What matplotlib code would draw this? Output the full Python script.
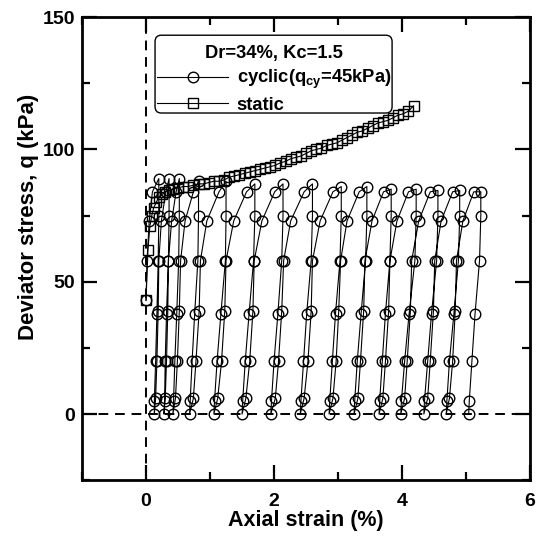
import matplotlib
matplotlib.use("Agg")
import matplotlib.pyplot as plt
from matplotlib.patches import FancyBboxPatch
from matplotlib.ticker import MultipleLocator

plt.rcParams["font.family"] = "Liberation Sans"
plt.rcParams["font.weight"] = "bold"
plt.rcParams["mathtext.fontset"] = "custom"
plt.rcParams["mathtext.rm"] = "Liberation Sans:bold"
plt.rcParams["mathtext.it"] = "Liberation Sans:bold"
plt.rcParams["mathtext.bf"] = "Liberation Sans:bold"

# static (monotonic) test
static_strain = [0.00, 0.03, 0.06, 0.09, 0.12, 0.16, 0.20, 0.25, 0.30, 0.36,
                 0.42, 0.50, 0.58, 0.66, 0.74, 0.82, 0.90, 0.98, 1.06, 1.14,
                 1.22, 1.30, 1.38, 1.46, 1.54, 1.62, 1.70, 1.78, 1.86, 1.94,
                 2.02, 2.10, 2.18, 2.26, 2.34, 2.42, 2.50, 2.58, 2.66, 2.74,
                 2.82, 2.90, 2.98, 3.06, 3.14, 3.22, 3.30, 3.38, 3.46, 3.54,
                 3.62, 3.70, 3.78, 3.86, 3.94, 4.02, 4.10, 4.18]
static_q = [43.0, 62.0, 71.0, 75.0, 78.0, 80.0, 82.0, 83.0, 84.0, 84.5,
            85.0, 85.5, 86.0, 86.0, 86.5, 87.0, 87.0, 87.5, 88.0, 88.0,
            88.5, 89.5, 90.0, 90.5, 91.0, 91.5, 92.0, 92.5, 93.0, 93.5,
            94.0, 95.0, 95.5, 96.5, 97.0, 97.5, 98.5, 99.5, 100.0, 100.5,
            101.5, 102.0, 102.5, 103.5, 104.5, 105.5, 106.5, 107.0, 108.0, 109.0,
            110.0, 110.5, 111.0, 112.0, 113.0, 113.5, 114.5, 116.5]

# cyclic test: first loading from the consolidation state
first_load_strain = [0.00, 0.016, 0.05, 0.10, 0.20]
first_load_q = [43.0, 58.0, 73.0, 84.0, 89.0]

peak_q = [89, 89, 89, 88, 88, 87, 87, 87, 86, 86, 85, 85, 84.5, 84.5, 84]

# unloading branches: strain at q = 75, 58, 38, 20, 5, 0
unload_q = [75, 58, 38, 20, 5, 0]
unload_strain = [
    [0.20, 0.19, 0.17, 0.15, 0.13, 0.13],
    [0.36, 0.35, 0.32, 0.30, 0.29, 0.28],
    [0.52, 0.51, 0.48, 0.45, 0.43, 0.42],
    [0.82, 0.81, 0.76, 0.72, 0.69, 0.68],
    [1.25, 1.24, 1.17, 1.11, 1.07, 1.06],
    [1.70, 1.68, 1.61, 1.55, 1.51, 1.50],
    [2.14, 2.12, 2.06, 2.00, 1.96, 1.95],
    [2.60, 2.58, 2.51, 2.46, 2.42, 2.41],
    [3.05, 3.03, 2.96, 2.91, 2.87, 2.86],
    [3.45, 3.43, 3.36, 3.30, 3.26, 3.25],
    [3.83, 3.81, 3.74, 3.69, 3.65, 3.64],
    [4.22, 4.20, 4.11, 4.04, 3.99, 3.98],
    [4.56, 4.54, 4.46, 4.40, 4.35, 4.34],
    [4.90, 4.88, 4.81, 4.74, 4.70, 4.69],
    [5.23, 5.21, 5.14, 5.09, 5.05, 5.04],
]

# reloading branches: strain at q = 6, 20, 39, 58, 73, 84 and the next peak
load_q = [6, 20, 39, 58, 73, 84]
load_strain = [
    [0.15, 0.17, 0.19, 0.20, 0.24, 0.31, 0.36],
    [0.30, 0.32, 0.34, 0.35, 0.40, 0.47, 0.52],
    [0.46, 0.49, 0.52, 0.54, 0.61, 0.74, 0.82],
    [0.74, 0.78, 0.83, 0.85, 0.95, 1.14, 1.25],
    [1.12, 1.18, 1.23, 1.25, 1.37, 1.57, 1.70],
    [1.56, 1.62, 1.67, 1.69, 1.81, 2.01, 2.14],
    [2.02, 2.07, 2.12, 2.15, 2.26, 2.47, 2.60],
    [2.47, 2.53, 2.58, 2.60, 2.72, 2.92, 3.05],
    [2.92, 2.97, 3.01, 3.04, 3.14, 3.33, 3.45],
    [3.31, 3.35, 3.40, 3.42, 3.53, 3.71, 3.83],
    [3.70, 3.74, 3.79, 3.81, 3.92, 4.10, 4.22],
    [4.04, 4.08, 4.13, 4.15, 4.26, 4.44, 4.56],
    [4.40, 4.44, 4.49, 4.51, 4.61, 4.79, 4.90],
    [4.74, 4.79, 4.83, 4.85, 4.95, 5.12, 5.23],
]

# chain the branches into one continuous record
cyc_strain = list(first_load_strain)
cyc_q = list(first_load_q)
for i, unload in enumerate(unload_strain):
    cyc_strain += unload
    cyc_q += unload_q
    if i < len(load_strain):
        cyc_strain += load_strain[i]
        cyc_q += load_q + [peak_q[i + 1]]

fig = plt.figure(figsize=(5.36, 5.36), dpi=100)
ax = fig.add_axes([0.153, 0.104, 0.836, 0.864])

ax.axvline(0, color="black", lw=1.4, ls=(0, (5, 3.5)), zorder=1)
ax.axhline(0, color="black", lw=1.4, ls=(0, (5, 3.5)), zorder=1)

ax.plot(cyc_strain, cyc_q, color="black", lw=0.8, marker="o", ms=7.6,
        mfc="none", mec="black", mew=1.0, zorder=3,
        label=r"cyclic(q$_{\mathrm{cy}}$=45kPa)")
ax.plot(static_strain, static_q, color="black", lw=0.8, marker="s", ms=7.0,
        mfc="none", mec="black", mew=1.0, zorder=2, label="static")

ax.set_xlim(-1, 6)
ax.set_ylim(-25, 150)
ax.xaxis.set_major_locator(MultipleLocator(2))
ax.xaxis.set_minor_locator(MultipleLocator(1))
ax.yaxis.set_major_locator(MultipleLocator(50))
ax.yaxis.set_minor_locator(MultipleLocator(25))
ax.tick_params(which="both", direction="in", top=True, right=True,
               width=1.6, labelsize=14)
ax.tick_params(which="major", length=11)
ax.tick_params(which="minor", length=6)
ax.tick_params(axis="x", pad=9)
ax.tick_params(axis="y", pad=5)
for spine in ax.spines.values():
    spine.set_linewidth(2.0)

ax.set_xlabel("Axial strain (%)", fontsize=15.5, fontweight="bold", labelpad=0)
ax.set_ylabel("Deviator stress, q (kPa)", fontsize=16, fontweight="bold")
ax.yaxis.set_label_coords(-0.096, 0.568)

# rounded legend frame drawn separately so the padding can be tight sideways
frame = FancyBboxPatch((0.163, 0.793), 0.529, 0.168, transform=ax.transAxes,
                       boxstyle="round,pad=0,rounding_size=0.014",
                       facecolor="white", edgecolor="black", lw=1.0, zorder=4)
ax.add_patch(frame)

leg = ax.legend(loc="upper left", bbox_to_anchor=(0.167, 0.939), borderaxespad=0,
                title="Dr=34%, Kc=1.5", fontsize=13.2, title_fontsize=13.2,
                handlelength=3.9, handletextpad=0.45, labelspacing=0.3,
                borderpad=0, frameon=False)
leg.set_zorder(5)
leg.get_title().set_fontweight("bold")

fig.savefig("out.png", dpi=100)
